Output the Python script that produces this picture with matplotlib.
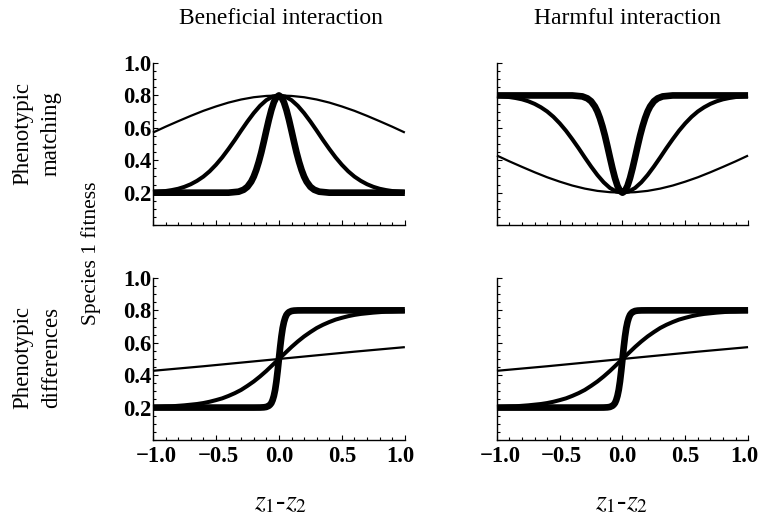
import numpy as np
import matplotlib
matplotlib.use("Agg")
import matplotlib.pyplot as plt
from matplotlib.ticker import MultipleLocator, FuncFormatter
from matplotlib.transforms import ScaledTranslation

plt.rcParams['font.family'] = ['Liberation Serif', 'DejaVu Serif']
plt.rcParams['mathtext.fontset'] = 'stix'

# values (species 1 fitness vs z1 - z2)
# phenotypic matching, beneficial interaction
x_thin = [-1.0, -0.9, -0.8, -0.7, -0.6, -0.5, -0.4, -0.3, -0.2, -0.1, 0.0,
          0.1, 0.2, 0.3, 0.4, 0.5, 0.6, 0.7, 0.8, 0.9, 1.0]
match_ben_thin = [0.571, 0.607, 0.641, 0.674, 0.705, 0.732, 0.756, 0.775, 0.789, 0.797, 0.800,
                  0.797, 0.789, 0.775, 0.756, 0.732, 0.705, 0.674, 0.641, 0.607, 0.571]

x_med = [-1.0, -0.95, -0.9, -0.85, -0.8, -0.75, -0.7, -0.65, -0.6, -0.55, -0.5,
         -0.45, -0.4, -0.35, -0.3, -0.25, -0.2, -0.15, -0.1, -0.05, 0.0,
         0.05, 0.1, 0.15, 0.2, 0.25, 0.3, 0.35, 0.4, 0.45, 0.5,
         0.55, 0.6, 0.65, 0.7, 0.75, 0.8, 0.85, 0.9, 0.95, 1.0]
match_ben_med = [0.204, 0.207, 0.210, 0.216, 0.224, 0.236, 0.252, 0.273, 0.299, 0.332, 0.372,
                 0.418, 0.470, 0.525, 0.583, 0.639, 0.691, 0.736, 0.771, 0.793, 0.800,
                 0.793, 0.771, 0.736, 0.691, 0.639, 0.583, 0.525, 0.470, 0.418, 0.372,
                 0.332, 0.299, 0.273, 0.252, 0.236, 0.224, 0.216, 0.210, 0.207, 0.204]

x_thick = [-1.0, -0.5, -0.4, -0.32, -0.28, -0.25, -0.22, -0.2, -0.18, -0.16, -0.14,
           -0.12, -0.1, -0.08, -0.06, -0.04, -0.02, 0.0,
           0.02, 0.04, 0.06, 0.08, 0.1, 0.12, 0.14, 0.16, 0.18, 0.2,
           0.22, 0.25, 0.28, 0.32, 0.4, 0.5, 1.0]
match_ben_thick = [0.200, 0.200, 0.200, 0.206, 0.218, 0.236, 0.268, 0.299, 0.340, 0.390, 0.448,
                   0.514, 0.583, 0.650, 0.710, 0.758, 0.789, 0.800,
                   0.789, 0.758, 0.710, 0.650, 0.583, 0.514, 0.448, 0.390, 0.340, 0.299,
                   0.268, 0.236, 0.218, 0.206, 0.200, 0.200, 0.200]

# phenotypic matching, harmful interaction
match_harm_thin = [0.429, 0.393, 0.359, 0.326, 0.295, 0.268, 0.244, 0.225, 0.211, 0.203, 0.200,
                   0.203, 0.211, 0.225, 0.244, 0.268, 0.295, 0.326, 0.359, 0.393, 0.429]
match_harm_med = [0.796, 0.793, 0.790, 0.784, 0.776, 0.764, 0.748, 0.727, 0.701, 0.668, 0.628,
                  0.582, 0.530, 0.475, 0.417, 0.361, 0.309, 0.264, 0.229, 0.207, 0.200,
                  0.207, 0.229, 0.264, 0.309, 0.361, 0.417, 0.475, 0.530, 0.582, 0.628,
                  0.668, 0.701, 0.727, 0.748, 0.764, 0.776, 0.784, 0.790, 0.793, 0.796]
match_harm_thick = [0.800, 0.800, 0.800, 0.794, 0.782, 0.764, 0.732, 0.701, 0.660, 0.610, 0.552,
                    0.486, 0.417, 0.350, 0.290, 0.242, 0.211, 0.200,
                    0.211, 0.242, 0.290, 0.350, 0.417, 0.486, 0.552, 0.610, 0.660, 0.701,
                    0.732, 0.764, 0.782, 0.794, 0.800, 0.800, 0.800]

# phenotypic differences (same in both columns)
x_diff_thin = [-1.0, -0.8, -0.6, -0.4, -0.2, 0.0, 0.2, 0.4, 0.6, 0.8, 1.0]
diff_thin = [0.427, 0.441, 0.455, 0.470, 0.485, 0.500, 0.515, 0.530, 0.545, 0.559, 0.573]

diff_med = [0.204, 0.205, 0.207, 0.208, 0.211, 0.214, 0.218, 0.222, 0.228, 0.236, 0.246,
            0.257, 0.272, 0.289, 0.309, 0.334, 0.361, 0.392, 0.426, 0.463, 0.500,
            0.537, 0.574, 0.608, 0.639, 0.666, 0.691, 0.711, 0.728, 0.743, 0.754,
            0.764, 0.772, 0.778, 0.782, 0.786, 0.789, 0.792, 0.793, 0.795, 0.796]

x_diff_thick = [-1.0, -0.2, -0.15, -0.12, -0.1, -0.08, -0.07, -0.06, -0.05, -0.04, -0.03,
                -0.02, -0.01, 0.0, 0.01, 0.02, 0.03, 0.04, 0.05, 0.06, 0.07,
                0.08, 0.1, 0.12, 0.15, 0.2, 1.0]
diff_thick = [0.200, 0.200, 0.2003, 0.2015, 0.204, 0.211, 0.218, 0.228, 0.246, 0.272, 0.309,
              0.361, 0.4265, 0.500, 0.5735, 0.639, 0.691, 0.728, 0.754, 0.772, 0.782,
              0.789, 0.796, 0.7985, 0.7997, 0.800, 0.800]

x_ticks = [-1.0, -0.5, 0.0, 0.5, 1.0]
y_ticks = [0.2, 0.4, 0.6, 0.8, 1.0]

lw = [1.6, 2.9, 4.8]

fig = plt.figure(figsize=(7.61, 5.21), dpi=100)
pos = {
    (0, 0): [0.201, 0.568, 0.331, 0.311],
    (0, 1): [0.653, 0.568, 0.330, 0.311],
    (1, 0): [0.201, 0.1555, 0.331, 0.311],
    (1, 1): [0.653, 0.1555, 0.330, 0.311],
}
curves = {
    (0, 0): [(x_thin, match_ben_thin), (x_med, match_ben_med), (x_thick, match_ben_thick)],
    (0, 1): [(x_thin, match_harm_thin), (x_med, match_harm_med), (x_thick, match_harm_thick)],
    (1, 0): [(x_diff_thin, diff_thin), (x_med, diff_med), (x_diff_thick, diff_thick)],
    (1, 1): [(x_diff_thin, diff_thin), (x_med, diff_med), (x_diff_thick, diff_thick)],
}

fmt = FuncFormatter(lambda v, p: ('%.1f' % v).replace('-', '\u2212'))
# small sideways nudges of the x tick labels, in pixels
nudge = [3, 2, 0, 0, -4]

for (r, c), p in pos.items():
    ax = fig.add_axes(p)
    for (xs, ys), w in zip(curves[(r, c)], lw):
        ax.plot(xs, ys, color='black', lw=w, clip_on=False,
                solid_joinstyle='round', solid_capstyle='butt')
    ax.set_xlim(-1, 1)
    ax.set_ylim(0, 1)
    for s in ['top', 'right']:
        ax.spines[s].set_visible(False)
    for s in ['left', 'bottom']:
        ax.spines[s].set_linewidth(1.0)
    ax.set_xticks(x_ticks)
    ax.xaxis.set_minor_locator(MultipleLocator(0.1))
    ax.set_yticks(y_ticks)
    ax.yaxis.set_minor_locator(MultipleLocator(0.05))
    ax.tick_params(which='both', direction='in', width=0.8, colors='black')
    ax.tick_params(which='major', length=3.8)
    ax.tick_params(which='minor', length=2.2)
    ax.tick_params(axis='y', pad=1)
    ax.tick_params(axis='x', pad=4)
    ax.xaxis.set_major_formatter(fmt)
    ax.yaxis.set_major_formatter(fmt)
    xlabs = ax.get_xticklabels()
    for lab in xlabs + ax.get_yticklabels():
        lab.set_fontsize(16.3)
        lab.set_fontweight('bold')
    for lab, dx in zip(xlabs, nudge):
        lab.set_transform(lab.get_transform()
                          + ScaledTranslation(dx / 100, 0, fig.dpi_scale_trans))
    if r == 0:
        ax.tick_params(axis='x', labelbottom=False)
    if c == 1:
        ax.tick_params(axis='y', labelleft=False)

fig.text(0.369, 0.965, 'Beneficial interaction', ha='center', va='center', fontsize=17)
fig.text(0.824, 0.965, 'Harmful interaction', ha='center', va='center', fontsize=17)
fig.text(0.049, 0.743, 'Phenotypic\nmatching', rotation=90, ha='center', va='center',
         multialignment='center', fontsize=16.5, linespacing=1.45)
fig.text(0.049, 0.313, 'Phenotypic\ndifferences', rotation=90, ha='center', va='center',
         multialignment='center', fontsize=16.5, linespacing=1.45)
fig.text(0.120, 0.514, 'Species 1 fitness', rotation=90, ha='center', va='center', fontsize=15.5)
fig.text(0.368, 0.035, r'$z_1$-$z_2$', ha='center', va='center', fontsize=20)
fig.text(0.817, 0.035, r'$z_1$-$z_2$', ha='center', va='center', fontsize=20)

fig.savefig('out.png', dpi=100)
